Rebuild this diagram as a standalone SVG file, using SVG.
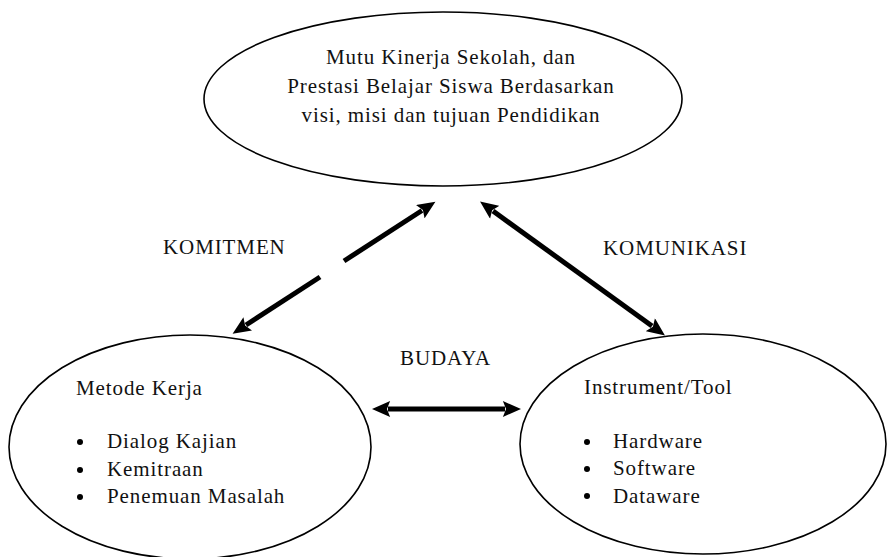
<svg xmlns="http://www.w3.org/2000/svg" width="888" height="557" viewBox="0 0 888 557">
<defs>
<style>
.node ellipse{fill:#fff;stroke:#000;stroke-width:1.6}
text{font-family:"Liberation Serif","Times New Roman",serif;font-size:21px;letter-spacing:0.9px;fill:#111}
.c{text-anchor:middle}
.conn line{stroke:#000;stroke-width:5}
</style>
<marker id="ah" markerUnits="userSpaceOnUse" markerWidth="20" markerHeight="16" refX="2" refY="7.5" orient="auto-start-reverse" viewBox="0 0 18 15">
<path d="M0,0 L17,7.5 L0,15 L3,7.5 z" fill="#000"/>
</marker>
</defs>
<rect width="888" height="557" fill="#fff"/>
<g id="node-top" class="node">
<ellipse cx="443" cy="99" rx="239" ry="87"/>
<text class="c" x="451" y="64">Mutu Kinerja Sekolah, dan</text>
<text class="c" x="451" y="93">Prestasi Belajar Siswa Berdasarkan</text>
<text class="c" x="451" y="122">visi, misi dan tujuan Pendidikan</text>
</g>
<g id="node-left" class="node">
<ellipse cx="190" cy="447" rx="181" ry="112"/>
<text x="76" y="395">Metode Kerja</text>
<circle cx="80" cy="442" r="3" fill="#000"/>
<text x="107" y="448">Dialog Kajian</text>
<circle cx="80" cy="470" r="3" fill="#000"/>
<text x="107" y="476">Kemitraan</text>
<circle cx="80" cy="497" r="3" fill="#000"/>
<text x="107" y="503">Penemuan Masalah</text>
</g>
<g id="node-right" class="node">
<ellipse cx="703" cy="444" rx="183" ry="110"/>
<text x="584" y="394">Instrument/Tool</text>
<circle cx="587" cy="442" r="3" fill="#000"/>
<text x="613" y="448">Hardware</text>
<circle cx="587" cy="469" r="3" fill="#000"/>
<text x="613" y="475">Software</text>
<circle cx="587" cy="496" r="3" fill="#000"/>
<text x="613" y="503">Dataware</text>
</g>
<g id="connectors" class="conn">
<line x1="246" y1="325" x2="320" y2="277" marker-start="url(#ah)"/>
<line x1="344" y1="261" x2="422" y2="210.5" marker-end="url(#ah)"/>
<line x1="493" y1="211" x2="652" y2="326" marker-start="url(#ah)" marker-end="url(#ah)"/>
<line x1="388" y1="409" x2="505" y2="409" marker-start="url(#ah)" marker-end="url(#ah)"/>
<text x="163" y="254">KOMITMEN</text>
<text x="603" y="255">KOMUNIKASI</text>
<text x="400" y="365">BUDAYA</text>
</g>
</svg>
